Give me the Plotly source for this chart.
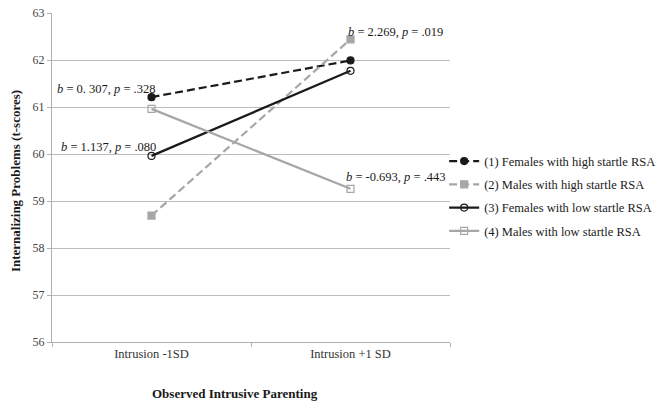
import plotly.graph_objects as go

categories = ["Intrusion -1SD", "Intrusion +1 SD"]
series_names = [
    "(1) Females with high startle RSA",
    "(2) Males with high startle RSA",
    "(3) Females with low startle RSA",
    "(4) Males with low startle RSA",
]
f_high = [61.21, 61.99]
m_high = [58.69, 62.44]
f_low = [59.96, 61.77]
m_low = [60.96, 59.26]
y_ticks = [56, 57, 58, 59, 60, 61, 62, 63]

ann_texts = [
    "<i>b</i> = 0. 307, <i>p</i> = .328",
    "<i>b</i> = 1.137, <i>p</i> = .080",
    "<i>b</i> = 2.269, <i>p</i> = .019",
    "<i>b</i> = -0.693, <i>p</i> = .443",
]

FONT = "Liberation Serif"
BLACK = "#1a1a1a"
GRAY = "#a6a6a6"

fig = go.Figure()
styles = [
    (f_high, BLACK, "8px,4px", "circle", BLACK),
    (m_high, GRAY, "8px,4px", "square", GRAY),
    (f_low, BLACK, "solid", "circle-open", BLACK),
    (m_low, GRAY, "solid", "square-open", GRAY),
]
for i, (name, (vals, col, dash, sym, mcol)) in enumerate(zip(series_names, styles)):
    fig.add_trace(go.Scatter(
        x=categories, y=vals, name=name, mode="lines+markers",
        legendgroup="g%d" % i,
        line=dict(color=col, width=2.2, dash=dash),
        marker=dict(symbol=sym, size=7, color=mcol,
                    line=dict(color=mcol, width=1.2)),
    ))

afont = dict(family=FONT, size=12.5, color=BLACK)
fig.add_annotation(x=categories[0], y=f_high[0], text=ann_texts[0], showarrow=False,
                   xanchor="right", yanchor="middle", xshift=6, yshift=8, font=afont)
fig.add_annotation(x=categories[0], y=f_low[0], text=ann_texts[1], showarrow=False,
                   xanchor="right", yanchor="middle", xshift=6, yshift=9, font=afont)
fig.add_annotation(x=categories[1], y=m_high[1], text=ann_texts[2], showarrow=False,
                   xanchor="left", yanchor="middle", xshift=-5, yshift=7, font=afont)
fig.add_annotation(x=categories[1], y=m_low[1], text=ann_texts[3], showarrow=False,
                   xanchor="left", yanchor="middle", xshift=-7, yshift=12, font=afont)

tfont = dict(family=FONT, size=13, color=BLACK)
fig.add_annotation(xref="paper", yref="paper", x=-0.093, y=0.489,
                   text="<b>Internalizing Problems (t-scores)</b>", textangle=-90,
                   showarrow=False, xanchor="center", yanchor="middle", font=tfont)
fig.add_annotation(xref="paper", yref="paper", x=0.46, y=-0.158,
                   text="<b>Observed Intrusive Parenting</b>",
                   showarrow=False, xanchor="center", yanchor="middle", font=tfont)

fig.update_layout(
    width=659, height=404,
    margin=dict(l=52, r=209, t=13, b=62, autoexpand=False),
    paper_bgcolor="white", plot_bgcolor="white",
    font=dict(family=FONT, size=12, color="#333333"),
    showlegend=True,
    legend=dict(xref="container", yref="container", x=0.674, xanchor="left",
                y=0.515, yanchor="middle",
                font=dict(family=FONT, size=12.5, color=BLACK),
                itemwidth=30, tracegroupgap=4, bgcolor="rgba(0,0,0,0)"),
    xaxis=dict(type="category", showgrid=False, showline=True, linecolor="#b0b0b0",
               linewidth=1.3, ticks="outside", tickson="boundaries", ticklen=4,
               tickcolor="#b0b0b0", tickfont=dict(family=FONT, size=12.5, color="#333333"),
               range=[-0.5, 1.5], automargin=False),
    yaxis=dict(range=[56, 63], tickvals=y_ticks, showgrid=True, gridcolor="#bdbdbd",
               gridwidth=1.3, showline=True, linecolor="#b0b0b0", linewidth=1.3,
               ticks="outside", ticklen=4, tickcolor="#b0b0b0", zeroline=False,
               tickfont=dict(family=FONT, size=12, color="#444444"), automargin=False),
)

fig.write_html("out.html", config={"displayModeBar": False},
               post_script="document.body.style.margin='0';document.body.style.overflow='hidden';")
